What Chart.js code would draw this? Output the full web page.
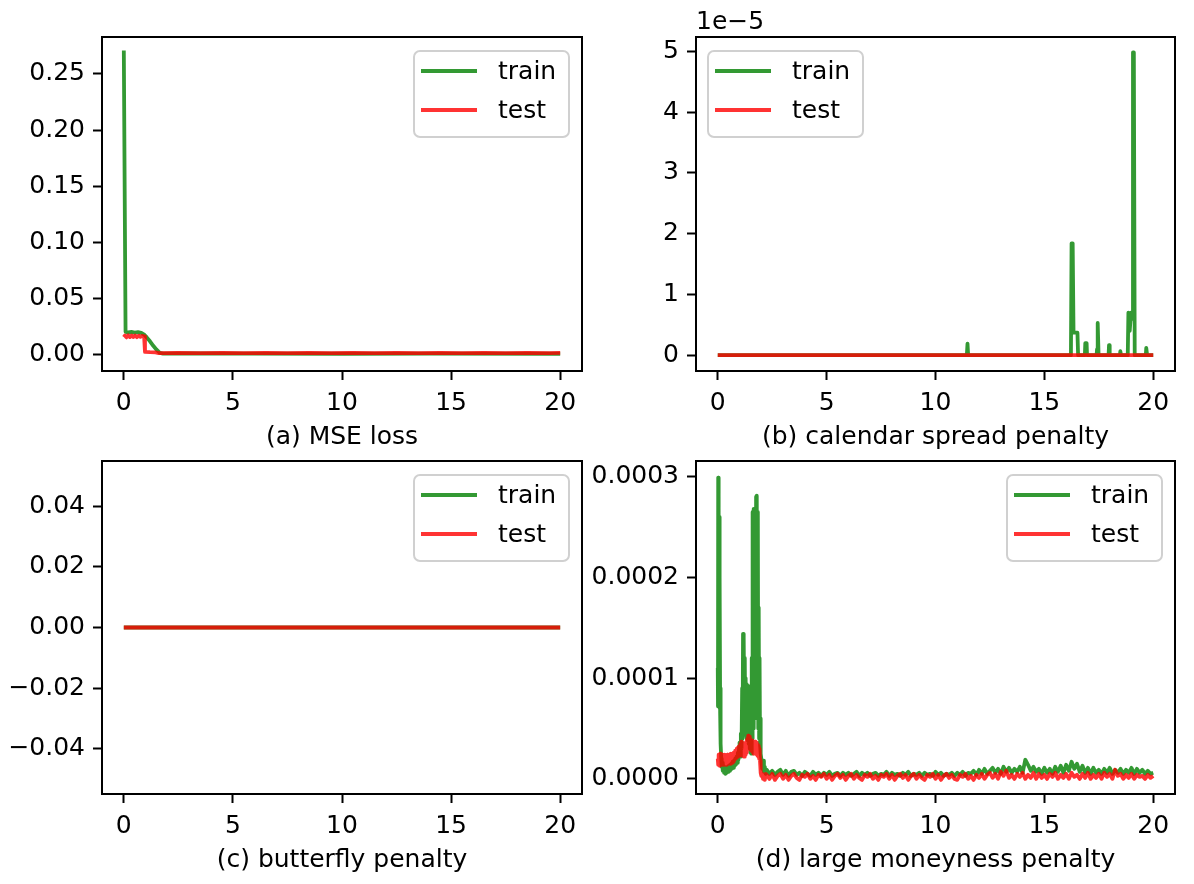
<!DOCTYPE html>
<html>
<head>
<meta charset="utf-8">
<script src="https://cdn.jsdelivr.net/npm/chart.js@4.4.1/dist/chart.umd.min.js"></script>
<style>
  body { margin: 0; background: #fff; width: 1194px; height: 884px; overflow: hidden; }
  canvas { position: absolute; }
</style>
</head>
<body>
<canvas id="chartA" width="597" height="452" style="left:0;top:0"></canvas>
<canvas id="chartB" width="634" height="452" style="left:560px;top:0"></canvas>
<canvas id="chartC" width="597" height="455" style="left:0;top:420px"></canvas>
<canvas id="chartD" width="634" height="455" style="left:560px;top:420px"></canvas>
<script>
// x axis (epochs) is shared by all four panels
const xTicks = [0, 5, 10, 15, 20];
const xTickLabels = ['0', '5', '10', '15', '20'];

// (a) MSE loss
const aTrain = [[0, 0.2710], [0.08, 0.0200], [0.2, 0.0195], [0.35, 0.0198], [0.5, 0.0193], [0.65, 0.0196], [0.8, 0.0190],
  [0.95, 0.0172], [1.05, 0.0150], [1.2, 0.0115], [1.35, 0.0075], [1.5, 0.0040], [1.65, 0.0012], [1.8, 0.0005],
  [3, 0.0006], [6, 0.0005], [10, 0.0004], [14, 0.0005], [20, 0.0004]];
const aTest = [[0, 0.0152], [0.05, 0.0166], [0.12, 0.0150], [0.2, 0.0168], [0.28, 0.0153], [0.36, 0.0167], [0.44, 0.0154],
  [0.52, 0.0166], [0.6, 0.0152], [0.68, 0.0165], [0.76, 0.0155], [0.84, 0.0164], [0.93, 0.0158], [0.97, 0.0020],
  [1.2, 0.0018], [1.45, 0.0017], [1.6, 0.0010], [2.5, 0.0012], [3.5, 0.0009], [4.5, 0.0012], [5.5, 0.0009],
  [6.5, 0.0012], [7.5, 0.0009], [8.5, 0.0012], [9.5, 0.0009], [10.5, 0.0012], [11.5, 0.0009], [12.5, 0.0012],
  [13.5, 0.0009], [14.5, 0.0012], [15.5, 0.0009], [16.5, 0.0012], [17.5, 0.0009], [18.5, 0.0012], [19.5, 0.0009], [20, 0.0011]];
const aYTicks = [0, 0.05, 0.10, 0.15, 0.20, 0.25];
const aYTickLabels = ['0.00', '0.05', '0.10', '0.15', '0.20', '0.25'];

// (b) calendar spread penalty, values in units of 1e-5
const bTrain = [[0, 0], [11.44, 0], [11.47, 0.19], [11.5, 0], [16.22, 0], [16.25, 1.84], [16.3, 1.84], [16.34, 0.37],
  [16.52, 0.37], [16.55, 0], [16.86, 0], [16.88, 0.2], [16.94, 0.2], [16.96, 0], [17.4, 0], [17.42, 0.1], [17.45, 0.53],
  [17.49, 0], [17.95, 0], [17.97, 0.165], [18.0, 0], [18.47, 0], [18.49, 0.066], [18.52, 0], [18.83, 0], [18.86, 0.7],
  [18.92, 0.4], [18.98, 0.7], [19.04, 0.6], [19.07, 4.98], [19.11, 4.98], [19.15, 0], [19.66, 0], [19.68, 0.12],
  [19.72, 0], [20, 0]];
const bTest = [[0, 0], [20, 0]];
const bYTicks = [0, 1, 2, 3, 4, 5];
const bYTickLabels = ['0', '1', '2', '3', '4', '5'];

// (c) butterfly penalty
const cTrain = [[0, 0], [20, 0]];
const cTest = [[0, 0], [20, 0]];
const cYTicks = [-0.04, -0.02, 0, 0.02, 0.04];
const cYTickLabels = ['\u22120.04', '\u22120.02', '0.00', '0.02', '0.04'];

// (d) large moneyness penalty, values in units of 1e-5
const dTrain = [[0.00, 11.0], [0.01, 7.2], [0.02, 29.9], [0.03, 9.0], [0.04, 27.5], [0.05, 8.0], [0.06, 26.0], [0.07, 7.0],
  [0.08, 25.5], [0.09, 7.5], [0.10, 20.0], [0.11, 6.5], [0.12, 9.0], [0.14, 3.5], [0.16, 2.0], [0.18, 1.2], [0.20, 1.6],
  [0.23, 0.8], [0.26, 1.3], [0.29, 0.6], [0.32, 1.2], [0.35, 0.5], [0.38, 1.0], [0.41, 0.6], [0.44, 1.2], [0.47, 0.7],
  [0.50, 1.3], [0.53, 0.8], [0.56, 1.4], [0.59, 0.9], [0.62, 1.5], [0.65, 1.0], [0.68, 1.7], [0.71, 1.1], [0.74, 1.8],
  [0.77, 1.3], [0.80, 2.0], [0.83, 1.4], [0.86, 2.2], [0.89, 1.6], [0.92, 2.6], [0.95, 1.9], [0.98, 3.2],
  [1.00, 3.6], [1.03, 2.2], [1.06, 4.5], [1.09, 3.0], [1.12, 9.0], [1.14, 4.0], [1.16, 14.4], [1.18, 5.0], [1.20, 14.0],
  [1.22, 6.0], [1.24, 12.0], [1.26, 5.5], [1.28, 10.0], [1.30, 4.5], [1.32, 9.4], [1.34, 4.0], [1.36, 8.8], [1.38, 3.8],
  [1.40, 9.2], [1.42, 3.5], [1.44, 6.0], [1.46, 3.0], [1.48, 4.5], [1.50, 2.6], [1.52, 4.0], [1.54, 2.5],
  [1.56, 12.0], [1.58, 4.0], [1.60, 26.5], [1.62, 6.0], [1.64, 26.8], [1.66, 5.0], [1.68, 22.0], [1.70, 6.0], [1.72, 25.0],
  [1.74, 8.0], [1.76, 28.0], [1.78, 10.0], [1.80, 28.1], [1.82, 7.0], [1.84, 26.5], [1.86, 5.0], [1.88, 17.0], [1.90, 4.0],
  [1.92, 12.0], [1.94, 3.5], [1.96, 6.0], [1.98, 2.5], [2.00, 2.0], [2.04, 1.0], [2.08, 1.8], [2.12, 0.7], [2.16, 1.2],
  [2.20, 0.5],
  [2.25, 0.9], [2.375, 0.5], [2.5, 0.8], [2.625, 0.4], [2.75, 0.7], [2.875, 0.9], [3, 0.4], [3.125, 0.8], [3.25, 0.3], [3.375, 0.7],
  [3.5, 0.8], [3.625, 0.4], [3.75, 0.6], [3.875, 0.3], [4, 0.7], [4.125, 0.5], [4.25, 0.3], [4.375, 0.7], [4.5, 0.4], [4.625, 0.6],
  [4.75, 0.3], [4.875, 0.6], [5, 0.4], [5.125, 0.7], [5.25, 0.3], [5.375, 0.5], [5.5, 0.6], [5.625, 0.3], [5.75, 0.6], [5.875, 0.4],
  [6, 0.6], [6.125, 0.3], [6.25, 0.5], [6.375, 0.7], [6.5, 0.3], [6.625, 0.6], [6.75, 0.4], [6.875, 0.6], [7, 0.3], [7.125, 0.5],
  [7.25, 0.6], [7.375, 0.3], [7.5, 0.5], [7.625, 0.4], [7.75, 0.7], [7.875, 0.3], [8, 0.6], [8.125, 0.4], [8.25, 0.5], [8.375, 0.3],
  [8.5, 0.6], [8.625, 0.4], [8.75, 0.7], [8.875, 0.3], [9, 0.5], [9.125, 0.4], [9.25, 0.6], [9.375, 0.3], [9.5, 0.6], [9.625, 0.4],
  [9.75, 0.5], [9.875, 0.3], [10, 0.7], [10.125, 0.4], [10.25, 0.6], [10.375, 0.3], [10.5, 0.5], [10.625, 0.4], [10.75, 0.6], [10.875, 0.3],
  [11, 0.6], [11.125, 0.4], [11.25, 0.7], [11.375, 0.3], [11.5, 0.6], [11.625, 0.5], [11.75, 0.8], [11.875, 0.4], [12, 0.9], [12.125, 0.5],
  [12.25, 1.0], [12.375, 0.5], [12.5, 0.8], [12.625, 1.1], [12.75, 0.6], [12.875, 1.0], [13, 0.5], [13.125, 1.2], [13.25, 0.7], [13.375, 1.1],
  [13.5, 0.6], [13.625, 1.0], [13.75, 0.7], [13.875, 1.2], [14, 0.6], [14.125, 1.9], [14.25, 1.4], [14.375, 0.8], [14.5, 1.2], [14.625, 0.7],
  [14.75, 1.0], [14.875, 0.5], [15, 1.1], [15.125, 0.6], [15.25, 1.0], [15.375, 0.5], [15.5, 1.2], [15.625, 0.7], [15.75, 1.3], [15.875, 0.6],
  [16, 1.4], [16.125, 0.8], [16.25, 1.7], [16.375, 1.0], [16.5, 1.5], [16.625, 0.7], [16.75, 1.3], [16.875, 0.6], [17, 1.1], [17.125, 0.5],
  [17.25, 1.1], [17.375, 0.6], [17.5, 0.9], [17.625, 0.5], [17.75, 1.0], [17.875, 0.6], [18, 1.1], [18.125, 0.5], [18.25, 0.9], [18.375, 0.6],
  [18.5, 1.0], [18.625, 0.5], [18.75, 0.9], [18.875, 0.6], [19, 1.1], [19.125, 0.5], [19.25, 1.0], [19.375, 0.6], [19.5, 0.9], [19.625, 0.5],
  [19.75, 0.8], [19.875, 0.5], [20, 0.6]];
const dTest = [[0.00, 2.0], [0.02, 1.4], [0.04, 2.4], [0.06, 1.5], [0.08, 2.3], [0.10, 1.3], [0.12, 2.5], [0.14, 1.6],
  [0.16, 2.2], [0.18, 1.4], [0.20, 2.4], [0.22, 1.5], [0.24, 2.3], [0.26, 1.4], [0.28, 2.2], [0.30, 1.5], [0.32, 2.4],
  [0.34, 1.6], [0.36, 2.2], [0.38, 1.4], [0.40, 2.3], [0.42, 1.5], [0.44, 2.4], [0.46, 1.6], [0.48, 2.2], [0.50, 1.5],
  [0.52, 2.4], [0.54, 1.6], [0.56, 2.3], [0.58, 1.5], [0.60, 2.5], [0.62, 1.7], [0.64, 2.4], [0.66, 1.6], [0.68, 2.5],
  [0.70, 1.8], [0.72, 2.6], [0.74, 1.7], [0.76, 2.6], [0.78, 1.9], [0.80, 2.8], [0.82, 2.0], [0.84, 2.7], [0.86, 2.1],
  [0.88, 3.0], [0.90, 2.2], [0.92, 3.1], [0.94, 2.3], [0.96, 3.2], [0.98, 2.4], [1.00, 3.3], [1.02, 2.3], [1.04, 3.5],
  [1.06, 2.4], [1.08, 3.7], [1.10, 2.5], [1.12, 3.6], [1.14, 2.3], [1.16, 3.4], [1.18, 2.2], [1.20, 3.3], [1.22, 2.2],
  [1.24, 3.2], [1.26, 2.4], [1.28, 3.6], [1.30, 2.6], [1.32, 3.8], [1.34, 2.8], [1.36, 4.0], [1.38, 3.0], [1.40, 4.3],
  [1.42, 3.1], [1.44, 4.2], [1.46, 3.0], [1.48, 4.0], [1.50, 2.9], [1.52, 3.9], [1.54, 2.8], [1.56, 3.8], [1.58, 2.7],
  [1.60, 3.8], [1.62, 2.6], [1.64, 3.7], [1.66, 2.5], [1.68, 3.6], [1.70, 2.6], [1.72, 3.7], [1.74, 2.5], [1.76, 3.6],
  [1.78, 2.4], [1.80, 3.5], [1.82, 2.3], [1.84, 3.4], [1.86, 2.2], [1.88, 3.3], [1.90, 2.0], [1.92, 3.0], [1.94, 1.8],
  [1.96, 1.2], [1.98, 0.6], [2.00, 0.3], [2.04, 0.5], [2.08, 0.0], [2.12, 0.4], [2.16, -0.1], [2.20, 0.5],
  [2.25, 0.4], [2.375, 0.0], [2.5, 0.5], [2.625, -0.1], [2.75, 0.3], [2.875, 0.5], [3, 0.0], [3.125, 0.4], [3.25, -0.1], [3.375, 0.3],
  [3.5, 0.5], [3.625, 0.1], [3.75, -0.1], [3.875, 0.4], [4, 0.2], [4.125, 0.5], [4.25, 0.0], [4.375, 0.3], [4.5, -0.1], [4.625, 0.4],
  [4.75, 0.2], [4.875, 0.5], [5, 0.0], [5.125, 0.4], [5.25, -0.1], [5.375, 0.3], [5.5, 0.5], [5.625, 0.1], [5.75, 0.4], [5.875, -0.1],
  [6, 0.3], [6.125, 0.5], [6.25, 0.0], [6.375, 0.4], [6.5, 0.1], [6.625, -0.1], [6.75, 0.4], [6.875, 0.2], [7, 0.5], [7.125, 0.0],
  [7.25, 0.3], [7.375, -0.1], [7.5, 0.4], [7.625, 0.2], [7.75, 0.5], [7.875, 0.0], [8, 0.4], [8.125, -0.1], [8.25, 0.3], [8.375, 0.5],
  [8.5, 0.1], [8.625, 0.4], [8.75, -0.1], [8.875, 0.3], [9, 0.5], [9.125, 0.0], [9.25, 0.4], [9.375, 0.1], [9.5, -0.1], [9.625, 0.4],
  [9.75, 0.2], [9.875, 0.5], [10, 0.0], [10.125, 0.4], [10.25, -0.1], [10.375, 0.3], [10.5, 0.5], [10.625, 0.1], [10.75, 0.4], [10.875, 0.0],
  [11, -0.1], [11.125, 0.4], [11.25, 0.2], [11.375, 0.5], [11.5, 0.0], [11.625, 0.3], [11.75, -0.1], [11.875, 0.4], [12, 0.1], [12.125, 0.5],
  [12.25, 0.0], [12.375, 0.4], [12.5, 0.6], [12.625, 0.1], [12.75, 0.5], [12.875, 0.0], [13, 0.7], [13.125, 0.3], [13.25, 0.8], [13.375, 0.1],
  [13.5, 0.4], [13.625, 0.0], [13.75, 0.5], [13.875, 0.2], [14, 0.6], [14.125, 0.0], [14.25, 0.4], [14.375, 0.1], [14.5, 0.6], [14.625, 0.0],
  [14.75, 0.5], [14.875, 0.1], [15, 0.4], [15.125, 0.0], [15.25, 0.5], [15.375, 0.2], [15.5, 0.6], [15.625, 0.0], [15.75, 0.4], [15.875, 0.1],
  [16, 0.5], [16.125, 0.0], [16.25, 0.6], [16.375, 0.2], [16.5, 0.4], [16.625, 0.0], [16.75, 0.5], [16.875, 0.1], [17, 0.6], [17.125, 0.0],
  [17.25, 0.4], [17.375, 0.1], [17.5, 0.5], [17.625, 0.0], [17.75, 0.6], [17.875, 0.2], [18, 0.5], [18.125, 0.0], [18.25, 0.9], [18.375, 0.3],
  [18.5, 0.5], [18.625, 0.0], [18.75, 0.4], [18.875, 0.1], [19, 0.5], [19.125, 0.0], [19.25, 0.4], [19.375, 0.2], [19.5, 0.3], [19.625, 0.0],
  [19.75, 0.4], [19.875, 0.1], [20, 0.3]];
const dYTicks = [0, 10, 20, 30];
const dYTickLabels = ['0.0000', '0.0001', '0.0002', '0.0003'];

const FONT = "'DejaVu Sans'";
const FONT_SIZE = 25;
const TRAIN_COLOR = 'rgba(0, 128, 0, 0.8)';
const TEST_COLOR = 'rgba(255, 0, 0, 0.8)';

Chart.defaults.font.family = FONT;
Chart.defaults.font.size = FONT_SIZE;
Chart.defaults.color = '#000';

// black box round the plot area, like matplotlib spines
const framePlugin = {
    id: 'frame',
    afterDatasetsDraw(chart) {
        const { ctx, chartArea: a } = chart;
        ctx.save();
        ctx.strokeStyle = '#000';
        ctx.lineWidth = 2;
        ctx.strokeRect(a.left, a.top, a.right - a.left, a.bottom - a.top);
        ctx.restore();
    }
};

// legend box drawn inside the axes
const boxLegendPlugin = {
    id: 'boxLegend',
    afterDraw(chart, args, opts) {
        const { ctx, chartArea: a } = chart;
        const w = 155, h = 86;
        const x = opts.side === 'left' ? a.left + 12 : a.right - 13 - w;
        const y = a.top + 14;
        ctx.save();
        ctx.fillStyle = 'rgba(255, 255, 255, 0.8)';
        ctx.strokeStyle = '#d0d0d0';
        ctx.lineWidth = 2;
        ctx.beginPath();
        ctx.roundRect(x, y, w, h, 6);
        ctx.fill();
        ctx.stroke();
        chart.data.datasets.forEach((ds, i) => {
            const ly = y + 20 + i * 39;
            ctx.strokeStyle = ds.borderColor;
            ctx.lineWidth = ds.borderWidth;
            ctx.beginPath();
            ctx.moveTo(x + 7, ly);
            ctx.lineTo(x + 63, ly);
            ctx.stroke();
            ctx.fillStyle = '#000';
            ctx.textBaseline = 'middle';
            ctx.textAlign = 'left';
            ctx.font = FONT_SIZE + 'px ' + FONT;
            ctx.fillText(ds.label, x + 84, ly + 1);
        });
        ctx.restore();
    }
};

// scale multiplier text above the y axis ("1e−5")
const offsetTextPlugin = {
    id: 'offsetText',
    afterDraw(chart, args, opts) {
        if (!opts.text) return;
        const { ctx, chartArea: a } = chart;
        ctx.save();
        ctx.fillStyle = '#000';
        ctx.font = FONT_SIZE + 'px ' + FONT;
        ctx.textAlign = 'left';
        ctx.textBaseline = 'alphabetic';
        ctx.fillText(opts.text, a.left, a.top - 8);
        ctx.restore();
    }
};

function toPoints(pairs) {
    return pairs.map(p => ({ x: p[0], y: p[1] }));
}

function makeChart(id, p) {
    const ctx = document.getElementById(id).getContext('2d');
    return new Chart(ctx, {
        type: 'line',
        data: {
            datasets: [
                { label: 'train', data: toPoints(p.train), borderColor: TRAIN_COLOR, borderWidth: 3.8, order: 1 },
                { label: 'test', data: toPoints(p.test), borderColor: TEST_COLOR, borderWidth: 3.8, order: 0 }
            ]
        },
        options: {
            responsive: false,
            animation: false,
            events: [],
            elements: {
                point: { radius: 0 },
                line: { tension: 0, fill: false, borderJoinStyle: 'round' }
            },
            layout: { padding: { top: p.padTop, right: p.padRight, left: 0, bottom: 0 } },
            plugins: {
                legend: { display: false },
                tooltip: { enabled: false },
                boxLegend: { side: p.legendSide },
                offsetText: { text: p.offsetText || '' }
            },
            scales: {
                x: {
                    type: 'linear',
                    min: -1,
                    max: 21,
                    afterBuildTicks: s => { s.ticks = xTicks.map(v => ({ value: v })); },
                    afterFit: s => { s.height = 81; },
                    ticks: { callback: (v, i) => xTickLabels[i], padding: 8, autoSkip: false, maxRotation: 0 },
                    grid: { drawOnChartArea: false, tickLength: 9, tickWidth: 2, tickColor: '#000' },
                    border: { display: false },
                    title: { display: true, text: p.xlabel, padding: 0 }
                },
                y: {
                    type: 'linear',
                    min: p.yMin,
                    max: p.yMax,
                    afterBuildTicks: s => { s.ticks = p.yTicks.map(v => ({ value: v })); },
                    afterFit: s => { s.width = p.axisWidth; },
                    ticks: { callback: (v, i) => p.yTickLabels[i], padding: 8, autoSkip: false },
                    grid: { drawOnChartArea: false, tickLength: 9, tickWidth: 2, tickColor: '#000' },
                    border: { display: false }
                }
            }
        },
        plugins: [framePlugin, boxLegendPlugin, offsetTextPlugin]
    });
}

makeChart('chartA', {
    train: aTrain, test: aTest, xlabel: '(a) MSE loss',
    yMin: -0.0150, yMax: 0.283, yTicks: aYTicks, yTickLabels: aYTickLabels,
    axisWidth: 102, padTop: 37, padRight: 15, legendSide: 'right'
});
makeChart('chartB', {
    train: bTrain, test: bTest, xlabel: '(b) calendar spread penalty',
    yMin: -0.26, yMax: 5.235, yTicks: bYTicks, yTickLabels: bYTickLabels,
    axisWidth: 136, padTop: 37, padRight: 19, legendSide: 'left', offsetText: '1e\u22125'
});
makeChart('chartC', {
    train: cTrain, test: cTest, xlabel: '(c) butterfly penalty',
    yMin: -0.055, yMax: 0.055, yTicks: cYTicks, yTickLabels: cYTickLabels,
    axisWidth: 102, padTop: 41, padRight: 15, legendSide: 'right'
});
makeChart('chartD', {
    train: dTrain, test: dTest, xlabel: '(d) large moneyness penalty',
    yMin: -1.5, yMax: 31.55, yTicks: dYTicks, yTickLabels: dYTickLabels,
    axisWidth: 136, padTop: 41, padRight: 19, legendSide: 'right'
});
</script>
</body>
</html>
